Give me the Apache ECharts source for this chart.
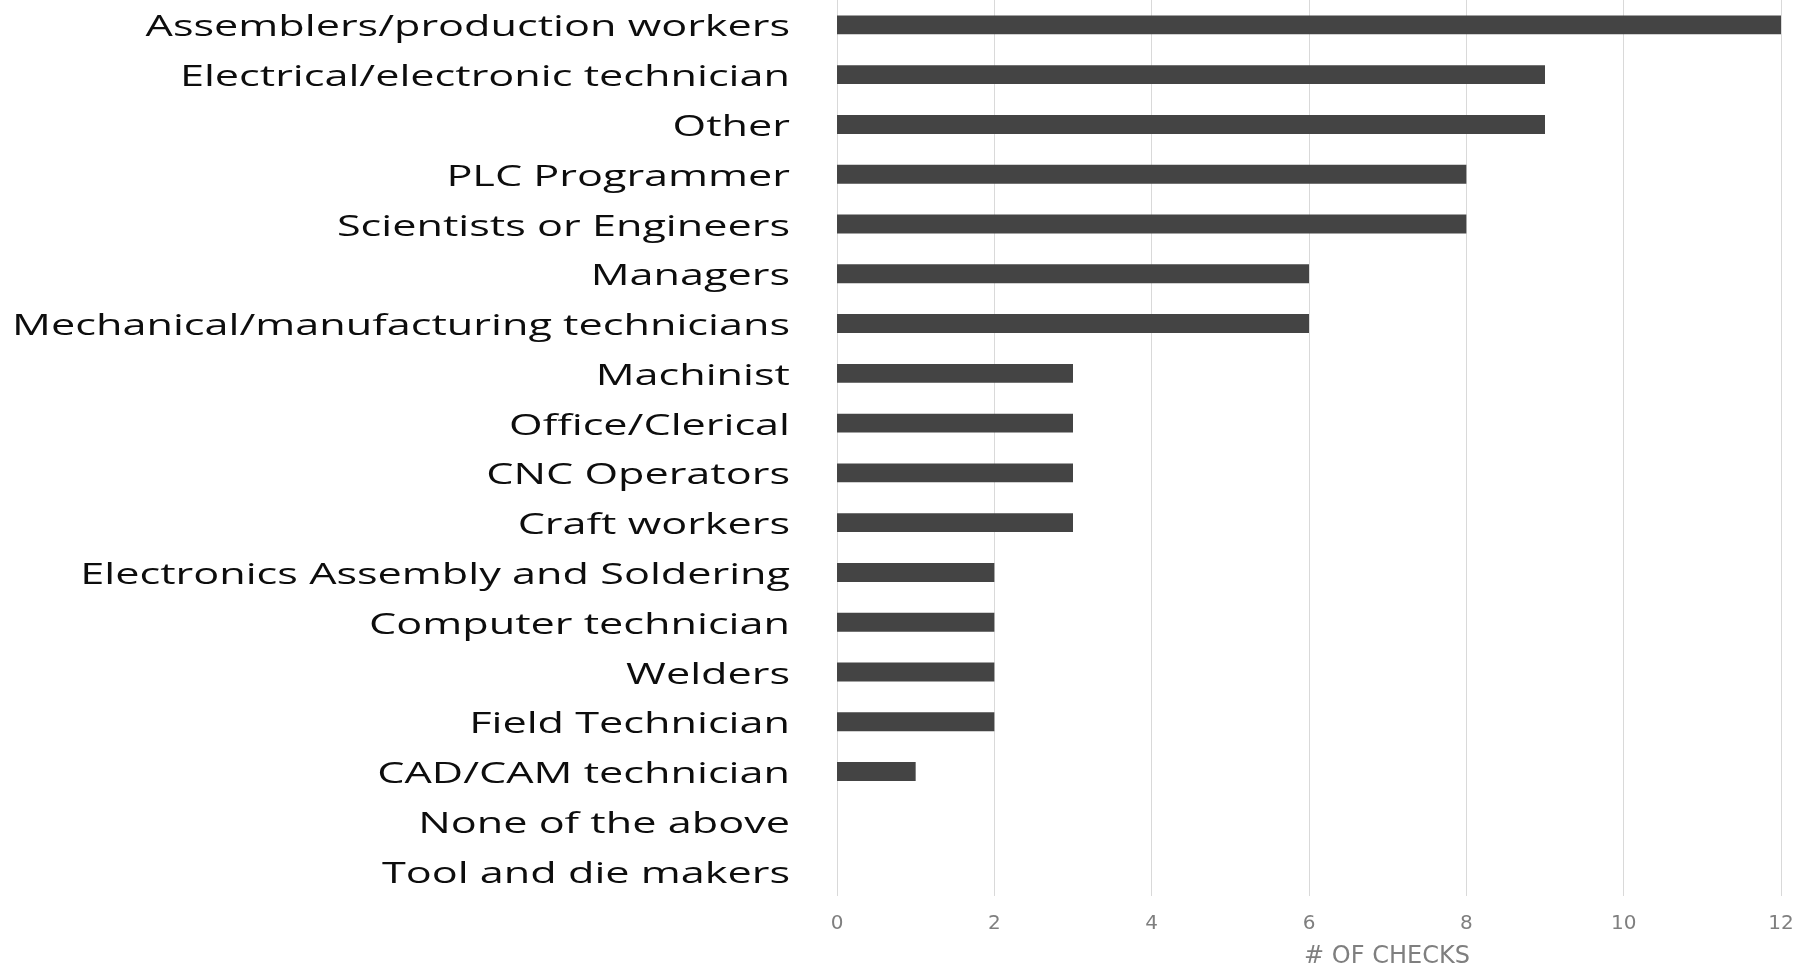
<!DOCTYPE html>
<html>
<head>
<meta charset="utf-8">
<script src="https://cdn.jsdelivr.net/npm/echarts@6/dist/echarts.min.js"></script>
<style>
  html, body { margin: 0; padding: 0; background: #fff; }
  #chart { width: 1806px; height: 966px; }
</style>
</head>
<body>
<div id="chart"></div>
<script>
// categories top to bottom, as in the picture
const jobs = [
  "Assemblers/production workers",
  "Electrical/electronic technician",
  "Other",
  "PLC Programmer",
  "Scientists or Engineers",
  "Managers",
  "Mechanical/manufacturing technicians",
  "Machinist",
  "Office/Clerical",
  "CNC Operators",
  "Craft workers",
  "Electronics Assembly and Soldering",
  "Computer technician",
  "Welders",
  "Field Technician",
  "CAD/CAM technician",
  "None of the above",
  "Tool and die makers"
];
const checks = [12, 9, 9, 8, 8, 6, 6, 3, 3, 3, 3, 2, 2, 2, 2, 1, 0, 0];
const xTicks = [0, 2, 4, 6, 8, 10, 12];

const chart = echarts.init(document.getElementById("chart"));
chart.setOption({
  animation: false,
  // keep the grid where it is, the axis name may touch the bottom edge
  grid: { left: 837, right: 25, top: 0, bottom: 70, outerBoundsMode: "none" },
  xAxis: {
    type: "value",
    min: xTicks[0],
    max: xTicks[xTicks.length - 1],
    interval: 2,
    name: "# OF CHECKS",
    nameLocation: "middle",
    nameGap: 49,
    nameTextStyle: {
      color: "#7f7f7f",
      fontSize: 24,
      fontFamily: "DejaVu Sans",
      padding: [0, 0, 0, 156]
    },
    axisLine: { show: false },
    axisTick: { show: false },
    axisLabel: {
      color: "#7f7f7f",
      fontSize: 20,
      fontFamily: "DejaVu Sans",
      margin: 18
    },
    splitLine: { lineStyle: { color: "#d9d9d9", width: 1 } }
  },
  yAxis: {
    type: "category",
    inverse: true,
    data: jobs,
    axisLine: { show: false },
    axisTick: { show: false },
    // the labels in the picture are stretched sideways, drawn below
    axisLabel: { show: false }
  },
  series: [
    {
      type: "bar",
      data: checks,
      barWidth: "38%",
      itemStyle: { color: "#444444" }
    }
  ]
});

// category labels placed from the axis scale, widened like the original
const labelRight = chart.convertToPixel({ xAxisIndex: 0 }, 0) - 47;
chart.setOption({
  graphic: jobs.map((name) => ({
    type: "text",
    x: labelRight,
    y: chart.convertToPixel({ yAxisIndex: 0 }, name) + 3,
    scaleX: 1.44,
    style: {
      text: name,
      fill: "#0d0d0d",
      font: "30px 'Open Sans'",
      align: "right",
      verticalAlign: "middle"
    }
  }))
});
</script>
</body>
</html>
